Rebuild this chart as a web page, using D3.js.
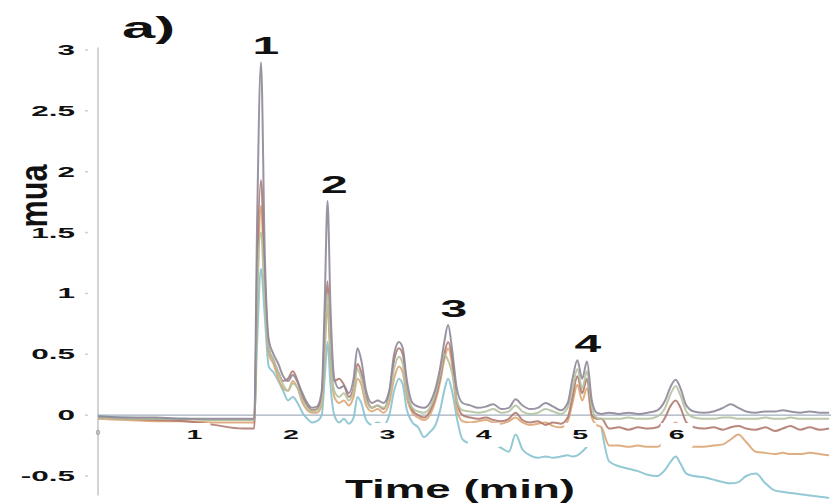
<!DOCTYPE html>
<html>
<head>
<meta charset="utf-8">
<script src="https://cdn.jsdelivr.net/npm/d3@7"></script>
<style>
  html, body { margin: 0; padding: 0; background: #ffffff; }
  svg { display: block; }
  text { font-family: "Liberation Sans", Arial, sans-serif; font-weight: bold; fill: #111; }
</style>
</head>
<body>
<svg id="chart" width="836" height="504"></svg>
<script>
// Retention time grid (min), shared by all traces
const time = [
  0, 0.3, 0.6, 0.9, 1.2, 1.5, 1.62, 1.65, 1.69, 1.73,
  1.77, 1.82, 1.87, 1.92, 1.97, 2.02, 2.07, 2.12, 2.17, 2.22,
  2.27, 2.32, 2.35, 2.38, 2.41, 2.45, 2.5, 2.55, 2.6, 2.65,
  2.69, 2.73, 2.78, 2.84, 2.9, 2.96, 3.02, 3.07, 3.12, 3.16,
  3.2, 3.26, 3.32, 3.38, 3.44, 3.5, 3.55, 3.59, 3.63, 3.67,
  3.72, 3.78, 3.86, 3.94, 4.02, 4.1, 4.18, 4.26, 4.33, 4.4,
  4.48, 4.56, 4.64, 4.72, 4.8, 4.87, 4.92, 4.97, 5.02, 5.07,
  5.12, 5.17, 5.22, 5.3, 5.4, 5.5, 5.6, 5.7, 5.8, 5.88,
  5.94, 5.99, 6.04, 6.1, 6.18, 6.28, 6.38, 6.48, 6.56, 6.64,
  6.72, 6.82, 6.92, 7.02, 7.1, 7.18, 7.28, 7.38, 7.48, 7.58
];

// Absorbance traces (mua)
const traceGrey = [
  -0.01, -0.02, -0.02, -0.03, -0.03, -0.03, -0.03, 1.6, 2.9, 1.3,
  0.62, 0.5, 0.42, 0.32, 0.28, 0.33, 0.27, 0.18, 0.1, 0.06,
  0.07, 0.2, 0.9, 1.76, 0.9, 0.3, 0.22, 0.24, 0.18, 0.3,
  0.55, 0.45, 0.2, 0.1, 0.12, 0.1, 0.2, 0.5, 0.6, 0.55,
  0.3, 0.1, 0.07, 0.06, 0.1, 0.22, 0.4, 0.6, 0.74, 0.55,
  0.22, 0.1, 0.08, 0.06, 0.07, 0.09, 0.05, 0.06, 0.13, 0.08,
  0.05, 0.06, 0.1, 0.07, 0.04, 0.1, 0.3, 0.45, 0.3, 0.44,
  0.12, 0.02, 0.01, 0.02, 0.01, 0.02, 0.01, 0.02, 0.04, 0.12,
  0.24, 0.29, 0.22, 0.08, 0.03, 0.02, 0.03, 0.06, 0.09, 0.06,
  0.03, 0.02, 0.03, 0.03, 0.04, 0.03, 0.02, 0.03, 0.02, 0.02
];
const traceGreen = [
  -0.02, -0.03, -0.03, -0.03, -0.04, -0.04, -0.04, 1.0, 1.5, 0.9,
  0.55, 0.45, 0.35, 0.25, 0.2, 0.26, 0.22, 0.12, 0.06, 0.03,
  0.04, 0.1, 0.6, 1.0, 0.5, 0.2, 0.15, 0.18, 0.12, 0.2,
  0.38, 0.3, 0.12, 0.06, 0.08, 0.06, 0.15, 0.38, 0.48, 0.42,
  0.2, 0.06, 0.03, 0.02, 0.06, 0.18, 0.35, 0.5, 0.45, 0.35,
  0.12, 0.04, 0.03, 0.02, 0.03, 0.05, 0.02, 0.03, 0.08, 0.03,
  0.01, 0.02, 0.05, 0.03, 0.01, 0.06, 0.22, 0.38, 0.22, 0.36,
  0.06, -0.02, -0.03, -0.03, -0.03, -0.02, -0.03, -0.03, -0.01, 0.06,
  0.18, 0.24, 0.16, 0.03, -0.02, -0.03, -0.03, -0.02, -0.02, -0.03,
  -0.03, -0.03, -0.02, -0.03, -0.03, -0.02, -0.03, -0.03, -0.03, -0.03
];
const traceOrange = [
  -0.03, -0.04, -0.05, -0.05, -0.06, -0.06, -0.06, 0.9, 1.72, 1.0,
  0.5, 0.42, 0.3, 0.22, 0.2, 0.28, 0.22, 0.1, 0.04, 0.02,
  0.02, 0.08, 0.5, 0.9, 0.45, 0.15, 0.1, 0.12, 0.08, 0.15,
  0.3, 0.25, 0.08, 0.03, 0.05, 0.02, 0.1, 0.3, 0.4, 0.35,
  0.15, 0.02, -0.02, -0.04, 0.0, 0.12, 0.28, 0.45, 0.55, 0.42,
  0.05, -0.05, -0.06, -0.05, -0.04, -0.06, -0.07, -0.05, -0.02, -0.06,
  -0.08, -0.07, -0.06, -0.09, -0.1, -0.05, 0.1, 0.25, 0.12, 0.22,
  -0.02, -0.08, -0.1, -0.25, -0.25, -0.26, -0.25, -0.26, -0.26, -0.2,
  -0.1, -0.06, -0.12, -0.22, -0.26, -0.26, -0.25, -0.24, -0.2, -0.16,
  -0.22, -0.3, -0.31, -0.32, -0.31, -0.32, -0.32, -0.31, -0.32, -0.33
];
const traceBrown = [
  -0.02, -0.03, -0.04, -0.05, -0.08, -0.11, -0.11, 1.2, 1.93, 1.1,
  0.55, 0.45, 0.35, 0.28, 0.3, 0.36, 0.28, 0.15, 0.08, 0.04,
  0.05, 0.15, 0.7, 1.1, 0.55, 0.28, 0.3, 0.25, 0.15, 0.22,
  0.42, 0.35, 0.15, 0.06, 0.08, 0.05, 0.18, 0.45, 0.55, 0.5,
  0.22, 0.04, 0.0, -0.02, 0.03, 0.15, 0.32, 0.5, 0.6, 0.48,
  0.12, 0.0, -0.02, -0.03, -0.02, -0.04, -0.05, -0.03, 0.02, -0.04,
  -0.06, -0.05, -0.08, -0.06, -0.07, -0.02, 0.15, 0.32, 0.18, 0.3,
  0.0, -0.03, -0.03, -0.11, -0.1, -0.12, -0.1, -0.11, -0.1, -0.02,
  0.08, 0.12, 0.06, -0.06, -0.1, -0.11, -0.1, -0.12, -0.1, -0.09,
  -0.11, -0.12, -0.1, -0.13, -0.11, -0.09, -0.12, -0.1, -0.12, -0.11
];
const traceBlue = [
  -0.01, -0.02, -0.03, -0.03, -0.04, -0.04, -0.04, 0.6, 1.2, 0.8,
  0.4, 0.35, 0.28, 0.2, 0.12, 0.15, 0.1, 0.02, -0.03, -0.06,
  -0.05, 0.0, 0.3, 0.6, 0.25, 0.0, -0.06, -0.03, -0.07, -0.02,
  0.15, 0.1, -0.04, -0.08, -0.06, -0.08, 0.0, 0.2, 0.3, 0.25,
  0.05, -0.06, -0.1, -0.18, -0.14, -0.08, 0.05, 0.2, 0.3, 0.2,
  -0.02, -0.2, -0.23, -0.22, -0.23, -0.24, -0.27, -0.3, -0.16, -0.28,
  -0.33, -0.35, -0.34, -0.35, -0.34, -0.33, -0.34, -0.33, -0.3, -0.26,
  null, null, -0.1, -0.38, -0.42, -0.44, -0.46, -0.49, -0.5, -0.45,
  -0.38, -0.34, -0.4, -0.48, -0.5, -0.51, -0.53, -0.55, -0.56, -0.55,
  -0.5, -0.48, -0.56, -0.62, -0.63, -0.64, -0.65, -0.66, -0.67, -0.68
];

const seriesNames = ["blue", "orange", "brown", "green", "grey"];
const seriesValues = [traceBlue, traceOrange, traceBrown, traceGreen, traceGrey];
const seriesColors = ["#86c3cf", "#dca676", "#b07a70", "#b4c2a0", "#8f8799"];

const xTicks = [0, 1, 2, 3, 4, 5, 6];
const yTicks = [-0.5, 0, 0.5, 1, 1.5, 2, 2.5, 3];
const yTickLabels = ["-0.5", "0", "0.5", "1", "1.5", "2", "2.5", "3"];

// Numbered peaks: label, label position (min), apex value
const peakLabels = ["1", "2", "3", "4"];
const peakLabelTimes = [1.74, 2.45, 3.69, 5.08];
const peakApex = [2.9, 1.76, 0.74, 0.45];

const svg = d3.select("#chart");
const x = d3.scaleLinear().domain([0, 7.6]).range([98, 831]);
const y = d3.scaleLinear().domain([-0.5, 3]).range([476, 50]);

// y axis line and zero baseline
svg.append("line")
  .attr("x1", x(0)).attr("x2", x(0))
  .attr("y1", y(3.02)).attr("y2", y(-0.66))
  .attr("stroke", "#c4c4c4").attr("stroke-width", 1.5);
svg.append("line")
  .attr("x1", x(0)).attr("x2", x(7.6))
  .attr("y1", y(0)).attr("y2", y(0))
  .attr("stroke", "#a3afbd").attr("stroke-width", 1.2);

// y ticks and labels
const yg = svg.append("g");
yg.selectAll("line").data(yTicks).join("line")
  .attr("x1", 85).attr("x2", 88)
  .attr("y1", d => y(d)).attr("y2", d => y(d))
  .attr("stroke", "#cfcfcf").attr("stroke-width", 1.5);
yg.selectAll("text").data(yTicks).join("text")
  .attr("transform", d => `translate(75,${y(d) + 5}) scale(2.1,1)`)
  .attr("text-anchor", "end")
  .attr("font-size", 15)
  .text((d, i) => yTickLabels[i]);

// traces
const line = d3.line()
  .defined(d => d[1] != null)
  .x(d => x(d[0]))
  .y(d => y(d[1]))
  .curve(d3.curveMonotoneX);

svg.append("g").selectAll("path")
  .data(seriesValues.map((vals, i) => ({ name: seriesNames[i], pts: time.map((t, j) => [t, vals[j]]) })))
  .join("path")
  .attr("d", d => line(d.pts))
  .attr("fill", "none")
  .attr("stroke", (d, i) => seriesColors[i])
  .attr("stroke-width", 2)
  .attr("stroke-linejoin", "round")
  .attr("stroke-opacity", 0.9);

// x tick labels on white boxes
const xg = svg.append("g");
xg.selectAll("rect").data(xTicks.filter(d => d > 0)).join("rect")
  .attr("x", d => x(d) - 16).attr("y", 423)
  .attr("width", 32).attr("height", 24)
  .attr("fill", "#ffffff");
xg.selectAll("text").data(xTicks).join("text")
  .attr("transform", d => `translate(${x(d)},${d === 0 ? 435 : 439}) scale(${d === 0 ? 1 : 2.2},1)`)
  .attr("text-anchor", "middle")
  .attr("font-size", d => d === 0 ? 8 : 13)
  .style("fill", d => d === 0 ? "#9a9a9a" : "#111")
  .text(d => d);

// peak numbers
svg.append("g").selectAll("text").data(peakLabels).join("text")
  .attr("transform", (d, i) => `translate(${x(peakLabelTimes[i])},${y(peakApex[i]) - 8}) scale(2,1)`)
  .attr("text-anchor", "middle")
  .attr("font-size", 24)
  .text(d => d);

// panel tag and axis titles
svg.append("text")
  .attr("x", 122).attr("y", 38)
  .attr("font-size", 29)
  .attr("textLength", 53).attr("lengthAdjust", "spacingAndGlyphs")
  .text("a)");
svg.append("text")
  .attr("x", 345).attr("y", 498)
  .attr("font-size", 25)
  .attr("textLength", 230).attr("lengthAdjust", "spacingAndGlyphs")
  .text("Time (min)");
svg.append("text")
  .attr("transform", "translate(47,196) rotate(-90) scale(1,1.8)")
  .attr("text-anchor", "middle")
  .attr("font-size", 22)
  .attr("textLength", 63).attr("lengthAdjust", "spacingAndGlyphs")
  .text("mua");
</script>
</body>
</html>
